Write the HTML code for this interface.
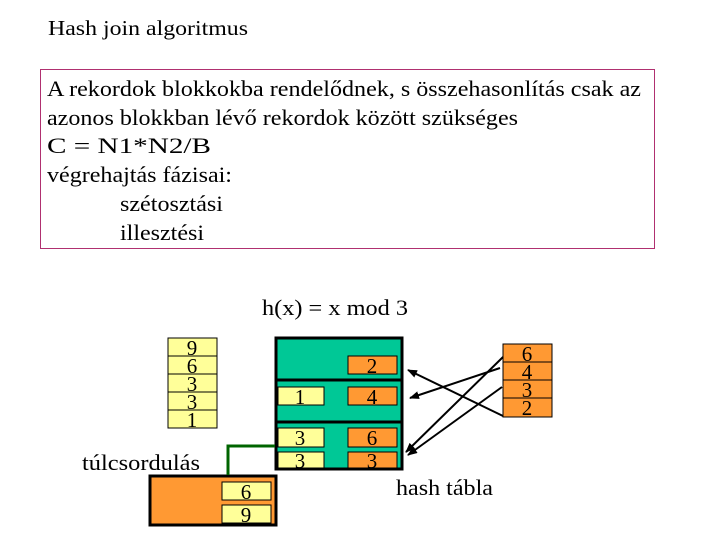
<!DOCTYPE html>
<html><head><meta charset="utf-8"><style>
html,body{margin:0;padding:0;background:#fff;width:720px;height:540px;overflow:hidden}
text{font-family:"Liberation Serif",serif;fill:#000}
</style></head><body>
<svg width="720" height="540" viewBox="0 0 720 540" xmlns="http://www.w3.org/2000/svg">
<defs><marker id="ah" markerWidth="10" markerHeight="8" refX="9" refY="4" orient="auto" markerUnits="userSpaceOnUse"><path d="M0,0 L10,4 L0,8 Z" fill="#000"/></marker></defs>
<text x="48" y="35" font-size="21" textLength="200" lengthAdjust="spacingAndGlyphs">Hash join algoritmus</text>
<rect x="40.5" y="69.5" width="614" height="179" fill="none" stroke="#b03070" stroke-width="1"/>
<g font-size="22">
<text x="47" y="96" textLength="594" lengthAdjust="spacingAndGlyphs">A rekordok blokkokba rendelődnek, s összehasonlítás csak az</text>
<text x="47" y="125" textLength="471" lengthAdjust="spacingAndGlyphs">azonos blokkban lévő rekordok között szükséges</text>
<text x="47" y="153" textLength="164" lengthAdjust="spacingAndGlyphs">C = N1*N2/B</text>
<text x="47" y="182" textLength="185" lengthAdjust="spacingAndGlyphs">végrehajtás fázisai:</text>
<text x="120" y="211" textLength="103" lengthAdjust="spacingAndGlyphs">szétosztási</text>
<text x="120" y="240" textLength="84" lengthAdjust="spacingAndGlyphs">illesztési</text>
<text x="262" y="315" textLength="146" lengthAdjust="spacingAndGlyphs">h(x) = x mod 3</text>
<text x="82" y="470" textLength="118" lengthAdjust="spacingAndGlyphs">túlcsordulás</text>
<text x="396" y="495" textLength="97" lengthAdjust="spacingAndGlyphs">hash tábla</text>
</g>
<!-- left stack -->
<g stroke="#000" stroke-width="1" fill="#ffff99">
<rect x="168" y="338" width="49" height="18"/><rect x="168" y="356" width="49" height="18"/><rect x="168" y="374" width="49" height="18"/><rect x="168" y="392" width="49" height="18"/><rect x="168" y="410" width="49" height="18"/>
</g>
<g font-size="21" text-anchor="middle">
<text x="192" y="355">9</text><text x="192" y="373">6</text><text x="192" y="391">3</text><text x="192" y="409">3</text><text x="192" y="427">1</text>
</g>
<!-- hash table -->
<g stroke="#000" stroke-width="3" fill="#00c896">
<rect x="276" y="338" width="126" height="42"/><rect x="276" y="380" width="126" height="42"/><rect x="276" y="422" width="126" height="47"/>
</g>
<g stroke="#000" stroke-width="1">
<rect x="348" y="356" width="49" height="18" fill="#ff9933"/>
<rect x="348" y="387" width="49" height="18" fill="#ff9933"/>
<rect x="278" y="387" width="46" height="18" fill="#ffff99"/>
<rect x="278" y="428" width="46" height="19" fill="#ffff99"/>
<rect x="348" y="428" width="49" height="19" fill="#ff9933"/>
<rect x="278" y="452" width="46" height="16" fill="#ffff99"/>
<rect x="348" y="452" width="49" height="16" fill="#ff9933"/>
</g>
<g font-size="21" text-anchor="middle">
<text x="372" y="373">2</text><text x="372" y="404">4</text><text x="300" y="404">1</text>
<text x="300" y="445">3</text><text x="372" y="445">6</text><text x="300" y="468">3</text><text x="372" y="468">3</text>
</g>
<!-- overflow -->
<rect x="150" y="476" width="126" height="49" fill="#ff9933" stroke="#000" stroke-width="3"/>
<rect x="222" y="482" width="49" height="18" fill="#ffff99" stroke="#000"/>
<rect x="222" y="505" width="49" height="18" fill="#ffff99" stroke="#000"/>
<g font-size="21" text-anchor="middle"><text x="246" y="499">6</text><text x="246" y="522">9</text></g>
<polyline points="228,475 228,446 275,446" fill="none" stroke="#006400" stroke-width="3"/>
<!-- right stack -->
<g stroke="#000" stroke-width="1" fill="#ff9933">
<rect x="503" y="344" width="49" height="18"/><rect x="503" y="362" width="49" height="18"/><rect x="503" y="380" width="49" height="18"/><rect x="503" y="398" width="49" height="19"/>
</g>
<g font-size="21" text-anchor="middle">
<text x="527" y="361">6</text><text x="527" y="379">4</text><text x="527" y="397">3</text><text x="527" y="415">2</text>
</g>
<g stroke="#000" stroke-width="2" fill="none" marker-end="url(#ah)">
<line x1="503" y1="416" x2="408" y2="370"/>
<line x1="500" y1="368" x2="410" y2="398"/>
<line x1="503" y1="357" x2="406" y2="452"/>
<line x1="502" y1="387" x2="408" y2="455"/>
</g>
</svg>
</body></html>
